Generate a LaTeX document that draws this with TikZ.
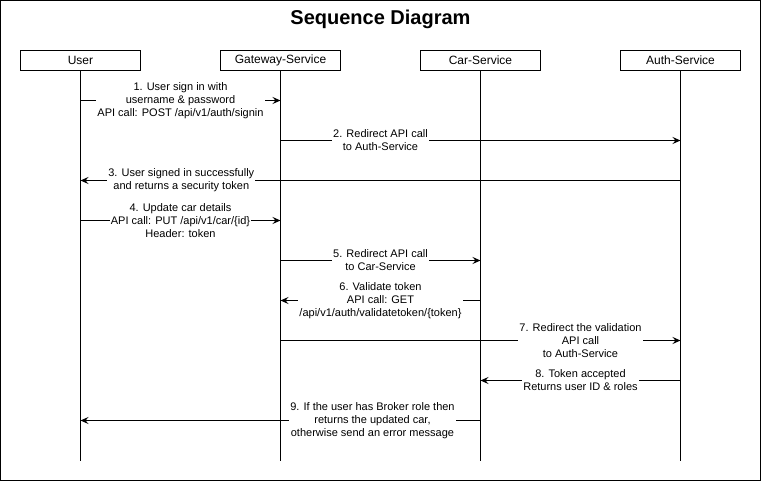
\documentclass[tikz,border=0pt]{standalone}
\usepackage{fontspec}
\setmainfont{Liberation Sans}
\usetikzlibrary{arrows.meta}

\begin{document}
\begin{tikzpicture}[x=1pt,y=-1pt,line width=1pt,font=\fontsize{11}{13}\selectfont]
\tikzset{actor/.style={draw,fill=white,minimum width=120pt,minimum height=20pt,inner sep=0pt,font=\fontsize{12}{14}\selectfont},
 msg/.style={-{Stealth[length=8pt,width=7pt,inset=3pt]}},
 lbl/.style={fill=white,inner sep=1pt,align=center}}
\useasboundingbox (-.5,-.5) rectangle (760.5,480.5);
\draw (0,0) rectangle (760,480);
\node[font=\fontsize{20}{24}\selectfont\bfseries] (title) at (380,19) {Sequence Diagram};
% participants and lifelines
\foreach \n/\x/\t in {user/80/User,gw/280/Gateway-Service,car/480/Car-Service,auth/680/Auth-Service}{
 \node[actor] (\n) at (\x,60) {\t};
 \coordinate (\n-end) at (\x,460);
 \draw (\n) -- (\n-end);
}
\foreach \i/\y in {1/100,2/140,3/180,4/220,5/260,6/300,7/340,8/380,9/420}{\coordinate (r\i) at (0,\y);}
% messages
\draw[msg] (user |- r1) -- node[lbl]{1. User sign in with\\username \& password\\API call: POST /api/v1/auth/signin} (gw |- r1);
\draw[msg] (gw |- r2) -- node[lbl,pos=.25]{2. Redirect API call\\to Auth-Service} (auth |- r2);
\draw[msg] (auth |- r3) -- node[lbl,pos=.832]{3. User signed in successfully\\and returns a security token} (user |- r3);
\draw[msg] (user |- r4) -- node[lbl]{4. Update car details\\API call: PUT /api/v1/car/\{id\}\\Header: token} (gw |- r4);
\draw[msg] (gw |- r5) -- node[lbl]{5. Redirect API call\\to Car-Service} (car |- r5);
\draw[msg] (car |- r6) -- node[lbl]{6. Validate token\\API call: GET\\/api/v1/auth/validatetoken/\{token\}} (gw |- r6);
\draw[msg] (gw |- r7) -- node[lbl,pos=.75]{7. Redirect the validation\\API call\\to Auth-Service} (auth |- r7);
\draw[msg] (auth |- r8) -- node[lbl]{8. Token accepted\\Returns user ID \& roles} (car |- r8);
\draw[msg] (car |- r9) -- node[lbl,pos=.27]{9. If the user has Broker role then\\returns the updated car,\\otherwise send an error message} (user |- r9);
\end{tikzpicture}
\end{document}
